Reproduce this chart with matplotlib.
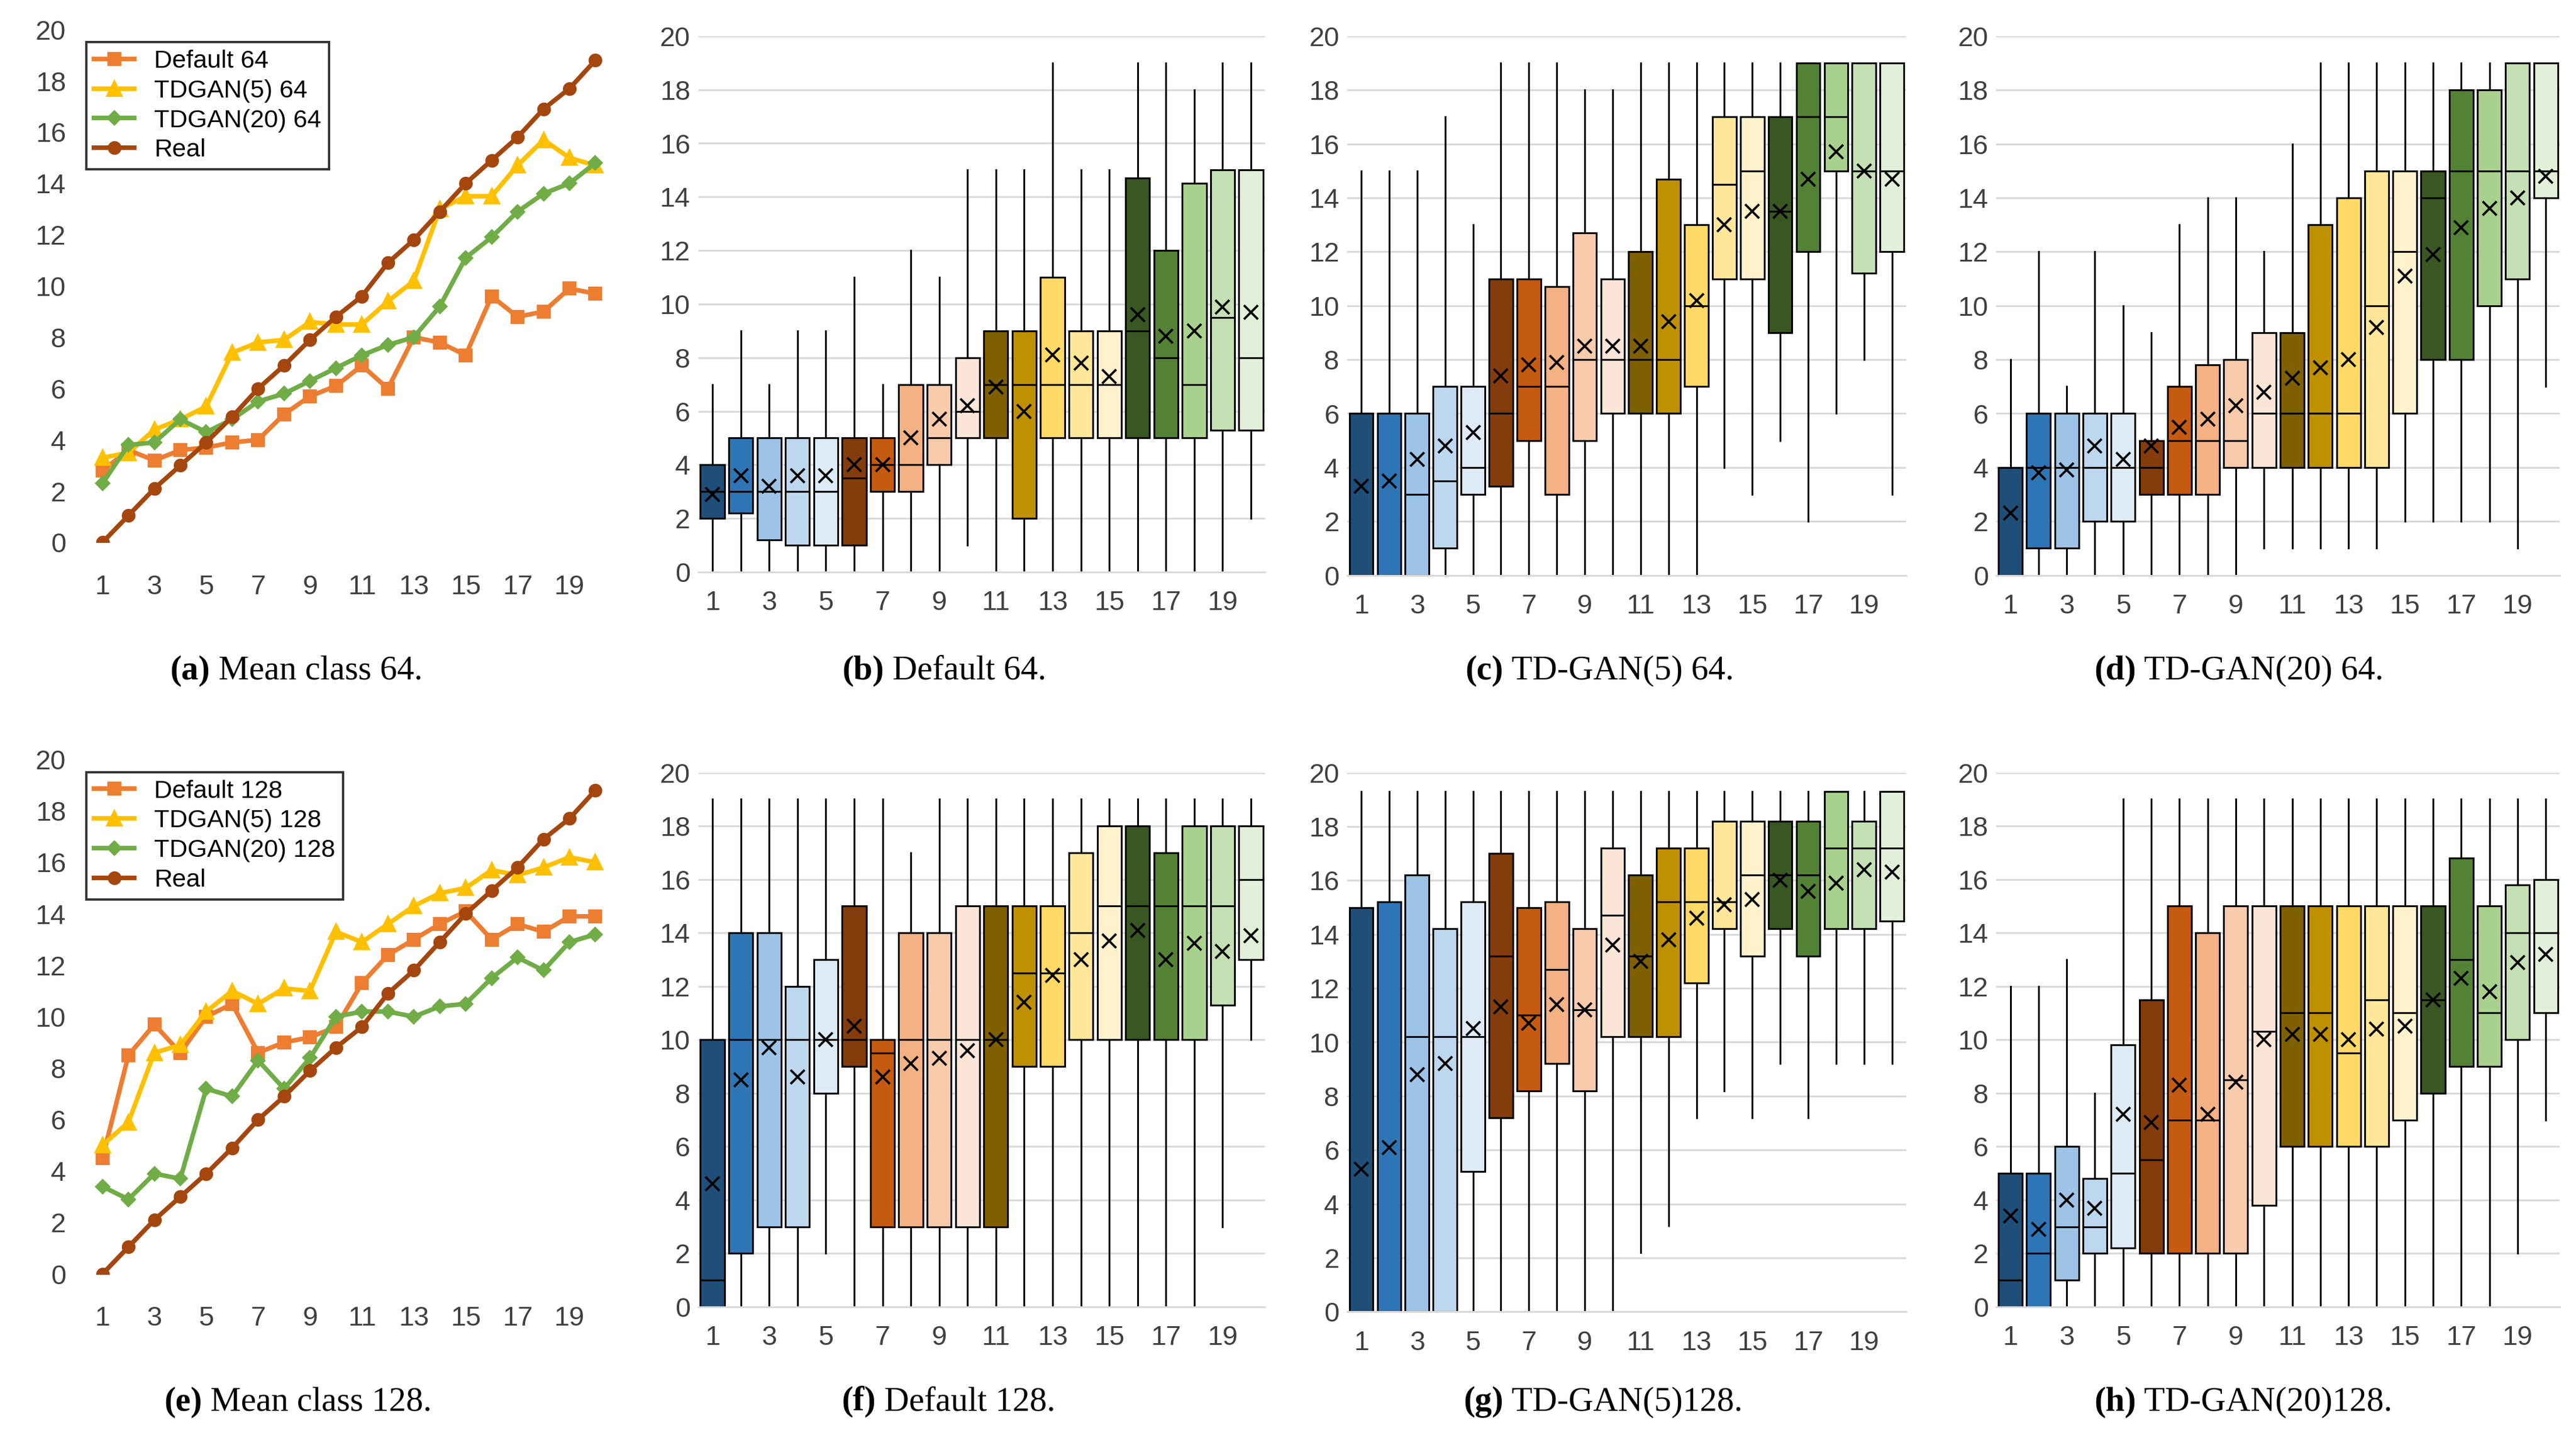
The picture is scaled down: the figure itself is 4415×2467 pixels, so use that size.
import matplotlib
matplotlib.use("Agg")
import matplotlib.pyplot as plt
import numpy as np

x = list(range(1, 21))
# Line panels
a_default = [2.8,3.6,3.2,3.6,3.7,3.9,4.0,5.0,5.7,6.1,6.9,6.0,8.0,7.8,7.3,9.6,8.8,9.0,9.9,9.7]
a_td5 = [3.3,3.5,4.4,4.8,5.3,7.4,7.8,7.9,8.6,8.5,8.5,9.4,10.2,13.0,13.5,13.5,14.7,15.7,15.0,14.7]
a_td20 = [2.3,3.8,3.9,4.8,4.3,4.8,5.5,5.8,6.3,6.8,7.3,7.7,8.0,9.2,11.1,11.9,12.9,13.6,14.0,14.8]
real = [0,1.05,2.1,3.0,3.9,4.9,6.0,6.9,7.9,8.8,9.6,10.9,11.8,12.9,14.0,14.9,15.8,16.9,17.7,18.8]
e_default = [4.5,8.5,9.7,8.6,10.0,10.5,8.6,9.0,9.2,9.6,11.3,12.4,13.0,13.6,14.1,13.0,13.6,13.3,13.9,13.9]
e_td5 = [5.0,5.9,8.6,8.9,10.2,11.0,10.5,11.1,11.0,13.3,12.9,13.6,14.3,14.8,15.0,15.7,15.5,15.8,16.2,16.0]
e_td20 = [3.4,2.9,3.9,3.7,7.2,6.9,8.3,7.2,8.4,10.0,10.2,10.2,10.0,10.4,10.5,11.5,12.3,11.8,12.9,13.2]

# Box panels: (low whisker, q1, median, q3, high whisker, mean)
b_boxes = [(0,2,3,4,7,2.9),(0,2.2,3,5,9,3.6),(0,1.2,3,5,7,3.2),(0,1,3,5,9,3.6),(0,1,3,5,9,3.6),
 (0,1,3.5,5,11,4.0),(0,3,4,5,7,4.0),(0,3,4,7,12,5.0),(0,4,5,7,11,5.7),(1,5,6,8,15,6.2),
 (0,5,7,9,15,6.9),(0,2,7,9,15,6.0),(0,5,7,11,19,8.1),(0,5,7,9,15,7.8),(0,5,7,9,15,7.3),
 (0,5,9,14.7,19,9.6),(0,5,8,12,19,8.8),(0,5,7,14.5,18,9.0),(0,5.3,9.5,15,19,9.9),(2,5.3,8,15,19,9.7)]
c_boxes = [(0,0,0,6,15,3.3),(0,0,0,6,15,3.5),(0,0,3,6,15,4.3),(0,1,3.5,7,17,4.8),(0,3,4,7,13,5.3),
 (0,3.3,6,11,19,7.4),(0,5,7,11,19,7.8),(0,3,7,10.7,19,7.9),(0,5,8,12.7,18,8.5),(0,6,8,11,18,8.5),
 (0,6,8,12,19,8.5),(0,6,8,14.7,19,9.4),(0,7,10,13,19,10.2),(4,11,14.5,17,19,13.0),(3,11,15,17,19,13.5),
 (5,9,13.5,17,19,13.5),(2,12,17,19,19,14.7),(6,15,17,19,19,15.7),(8,11.2,15,19,19,15.0),(3,12,15,19,19,14.7)]
d_boxes = [(0,0,0,4,8,2.3),(0,1,4,6,12,3.8),(0,1,4,6,7,3.9),(0,2,4,6,12,4.8),(0,2,4,6,10,4.3),
 (0,3,4,5,9,4.8),(0,3,5,7,13,5.5),(0,3,5,7.8,14,5.8),(0,4,5,8,14,6.3),(1,4,6,9,12,6.8),
 (1,4,6,9,16,7.3),(1,4,6,13,19,7.7),(1,4,6,14,19,8.0),(1,4,10,15,19,9.2),(2,6,12,15,19,11.1),
 (2,8,14,15,19,11.9),(2,8,15,18,19,12.9),(2,10,15,18,19,13.6),(1,11,15,19,19,14.0),(7,14,15,19,19,14.8)]
f_boxes = [(0,0,1,10,19,4.6),(0,2,10,14,19,8.5),(0,3,10,14,19,9.7),(0,3,10,12,19,8.6),(2,8,10,13,19,10.0),
 (0,9,10,15,19,10.5),(0,3,9.5,10,19,8.6),(0,3,10,14,17,9.1),(0,3,10,14,19,9.3),(0,3,10,15,19,9.6),
 (0,3,10,15,19,10.0),(0,9,12.5,15,19,11.4),(0,9,12.5,15,19,12.4),(0,10,14,17,19,13.0),(0,10,15,18,19,13.7),
 (0,10,15,18,19,14.1),(0,10,15,17,19,13.0),(0,10,15,18,19,13.6),(3,11.3,15,18,19,13.3),(10,13,16,18,19,13.9)]
g_boxes = [(0,0,0,15,19.3,5.3),(0,0,0,15.2,19.3,6.1),(0,0,10.2,16.2,19.3,8.8),(0,0,10.2,14.2,19.3,9.2),(0,5.2,10.2,15.2,19.3,10.5),
 (0,7.2,13.2,17,19.3,11.3),(0,8.2,11,15,19.3,10.7),(0,9.2,12.7,15.2,19.3,11.4),(0,8.2,11.2,14.2,19.3,11.2),(0,10.2,14.7,17.2,19.3,13.6),
 (2.2,10.2,13.2,16.2,19.3,13.0),(3.2,10.2,15.2,17.2,19.3,13.8),(7.2,12.2,15.2,17.2,19.3,14.6),(8.2,14.2,15.2,18.2,19.3,15.1),(7.2,13.2,16.2,18.2,19.3,15.3),
 (9.2,14.2,16.2,18.2,19.3,16.0),(7.2,13.2,16.2,18.2,19.3,15.6),(9.2,14.2,17.2,19.3,19.3,15.9),(9.2,14.2,17.2,18.2,19.3,16.4),(9.2,14.5,17.2,19.3,19.3,16.3)]
h_boxes = [(0,0,1,5,12,3.4),(0,0,2,5,12,2.9),(0,1,3,6,13,4.0),(0,2,3,4.8,8,3.7),(0,2.2,5,9.8,19,7.2),
 (0,2,5.5,11.5,19,6.9),(0,2,7,15,19,8.3),(0,2,7,14,19,7.2),(0,2,8.5,15,19,8.4),(0,3.8,10.3,15,19,10.0),
 (0,6,11,15,19,10.2),(0,6,11,15,19,10.2),(0,6,9.5,15,19,10.0),(0,6,11.5,15,19,10.4),(0,7,11,15,19,10.5),
 (0,8,11.5,15,19,11.5),(0,9,13,16.8,19,12.3),(0,9,11,15,19,11.8),(2,10,14,15.8,19,12.9),(7,11,14,16,19,13.2)]

box_colors = ['#1F4E79','#2E75B6','#9DC3E6','#BDD7EE','#DEEBF7',
              '#843C0C','#C55A11','#F4B183','#F8CBAD','#FBE5D6',
              '#7F6000','#BF9000','#FFD966','#FFE699','#FFF2CC',
              '#385723','#548235','#A9D18E','#C5E0B4','#E2F0D9']

W, H = 1568.0, 876.0
fig = plt.figure(figsize=(15.68, 8.761), dpi=281.6)
plt.rcParams['font.family'] = ['Liberation Sans', 'DejaVu Sans']

def ax_at(x0, x1, ytop, ybot):
    return fig.add_axes([x0/W, 1-ybot/H, (x1-x0)/W, (ybot-ytop)/H])

def line_panel(ax, d, t5, t20, labels):
    ax.plot(x, d, color='#ED7D31', marker='s', ms=5, lw=2, label=labels[0])
    ax.plot(x, t5, color='#FFC000', marker='^', ms=6, lw=2, label=labels[1])
    ax.plot(x, t20, color='#70AD47', marker='D', ms=4, lw=2, label=labels[2])
    ax.plot(x, real, color='#A5460E', marker='o', ms=5, lw=2, label='Real')
    ax.set_xlim(-0.1, 20.8)
    ax.set_ylim(0, 20)
    ax.set_yticks(range(0, 21, 2))
    ax.set_xticks(range(1, 20, 2))
    for s in ax.spines.values():
        s.set_visible(False)
    ax.tick_params(length=0, labelsize=12, colors='#404040')
    ax.tick_params(axis='x', pad=14)
    leg = ax.legend(loc='upper left', bbox_to_anchor=(0.0, 1.0), frameon=True, fontsize=11,
                    handlelength=1.6, borderpad=0.3, labelspacing=0.25, fancybox=False)
    leg.get_frame().set_edgecolor('black')
    leg.get_frame().set_linewidth(1.0)

def box_panel(ax, boxes, ymax=20):
    stats = []
    for i, (lo, q1, med, q3, hi, mean) in enumerate(boxes):
        stats.append(dict(whislo=lo, q1=q1, med=med, q3=q3, whishi=hi, mean=mean, fliers=[], label=str(i+1)))
    bp = ax.bxp(stats, positions=x, widths=0.85, patch_artist=True, showmeans=True, showcaps=False,
                meanprops=dict(marker='x', markeredgecolor='black', markersize=6, markeredgewidth=1.0),
                medianprops=dict(color='black', lw=0.8),
                whiskerprops=dict(color='black', lw=0.8),
                boxprops=dict(edgecolor='black', lw=0.8))
    for p, c in zip(bp['boxes'], box_colors):
        p.set_facecolor(c)
    ax.set_xlim(0.5, 20.5)
    ax.set_ylim(0, ymax)
    ax.set_yticks(range(0, 21, 2))
    ax.set_xticks(x)
    ax.set_xticklabels([str(i) if i % 2 == 1 else '' for i in x])
    ax.yaxis.grid(True, color='#D9D9D9', lw=0.8)
    ax.set_axisbelow(True)
    for s in ax.spines.values():
        s.set_visible(False)
    ax.spines['bottom'].set_visible(True)
    ax.spines['bottom'].set_color('#D9D9D9')
    ax.tick_params(length=0, labelsize=12, colors='#404040')
    ax.tick_params(axis='x', pad=8)

def caption(xc, y, bold, rest):
    fig.text(xc/W, 1-y/H, bold, ha='right', va='center', fontsize=15, fontweight='bold', family='Liberation Serif')
    fig.text(xc/W, 1-y/H, ' ' + rest, ha='left', va='center', fontsize=15, family='Liberation Serif')

ax = ax_at(45, 375, 18, 330)
line_panel(ax, a_default, a_td5, a_td20, ['Default 64', 'TDGAN(5) 64', 'TDGAN(20) 64'])
ax = ax_at(45, 375, 462, 775)
line_panel(ax, e_default, e_td5, e_td20, ['Default 128', 'TDGAN(5) 128', 'TDGAN(20) 128'])

box_panel(ax_at(425, 770, 22, 348), b_boxes)
box_panel(ax_at(820, 1160, 22, 350), c_boxes)
box_panel(ax_at(1215, 1558, 22, 350), d_boxes)
box_panel(ax_at(425, 770, 470, 795), f_boxes)
box_panel(ax_at(820, 1160, 470, 798), g_boxes, ymax=20)
box_panel(ax_at(1215, 1558, 470, 795), h_boxes)

caption(128, 408, '(a)', 'Mean class 64.')
caption(538, 408, '(b)', 'Default 64.')
caption(915, 408, '(c)', 'TD-GAN(5) 64.')
caption(1300, 408, '(d)', 'TD-GAN(20) 64.')
caption(123, 853, '(e)', 'Mean class 128.')
caption(533, 853, '(f)', 'Default 128.')
caption(915, 853, '(g)', 'TD-GAN(5)128.')
caption(1300, 853, '(h)', 'TD-GAN(20)128.')

fig.savefig('out.png', dpi=281.6, facecolor='white')
